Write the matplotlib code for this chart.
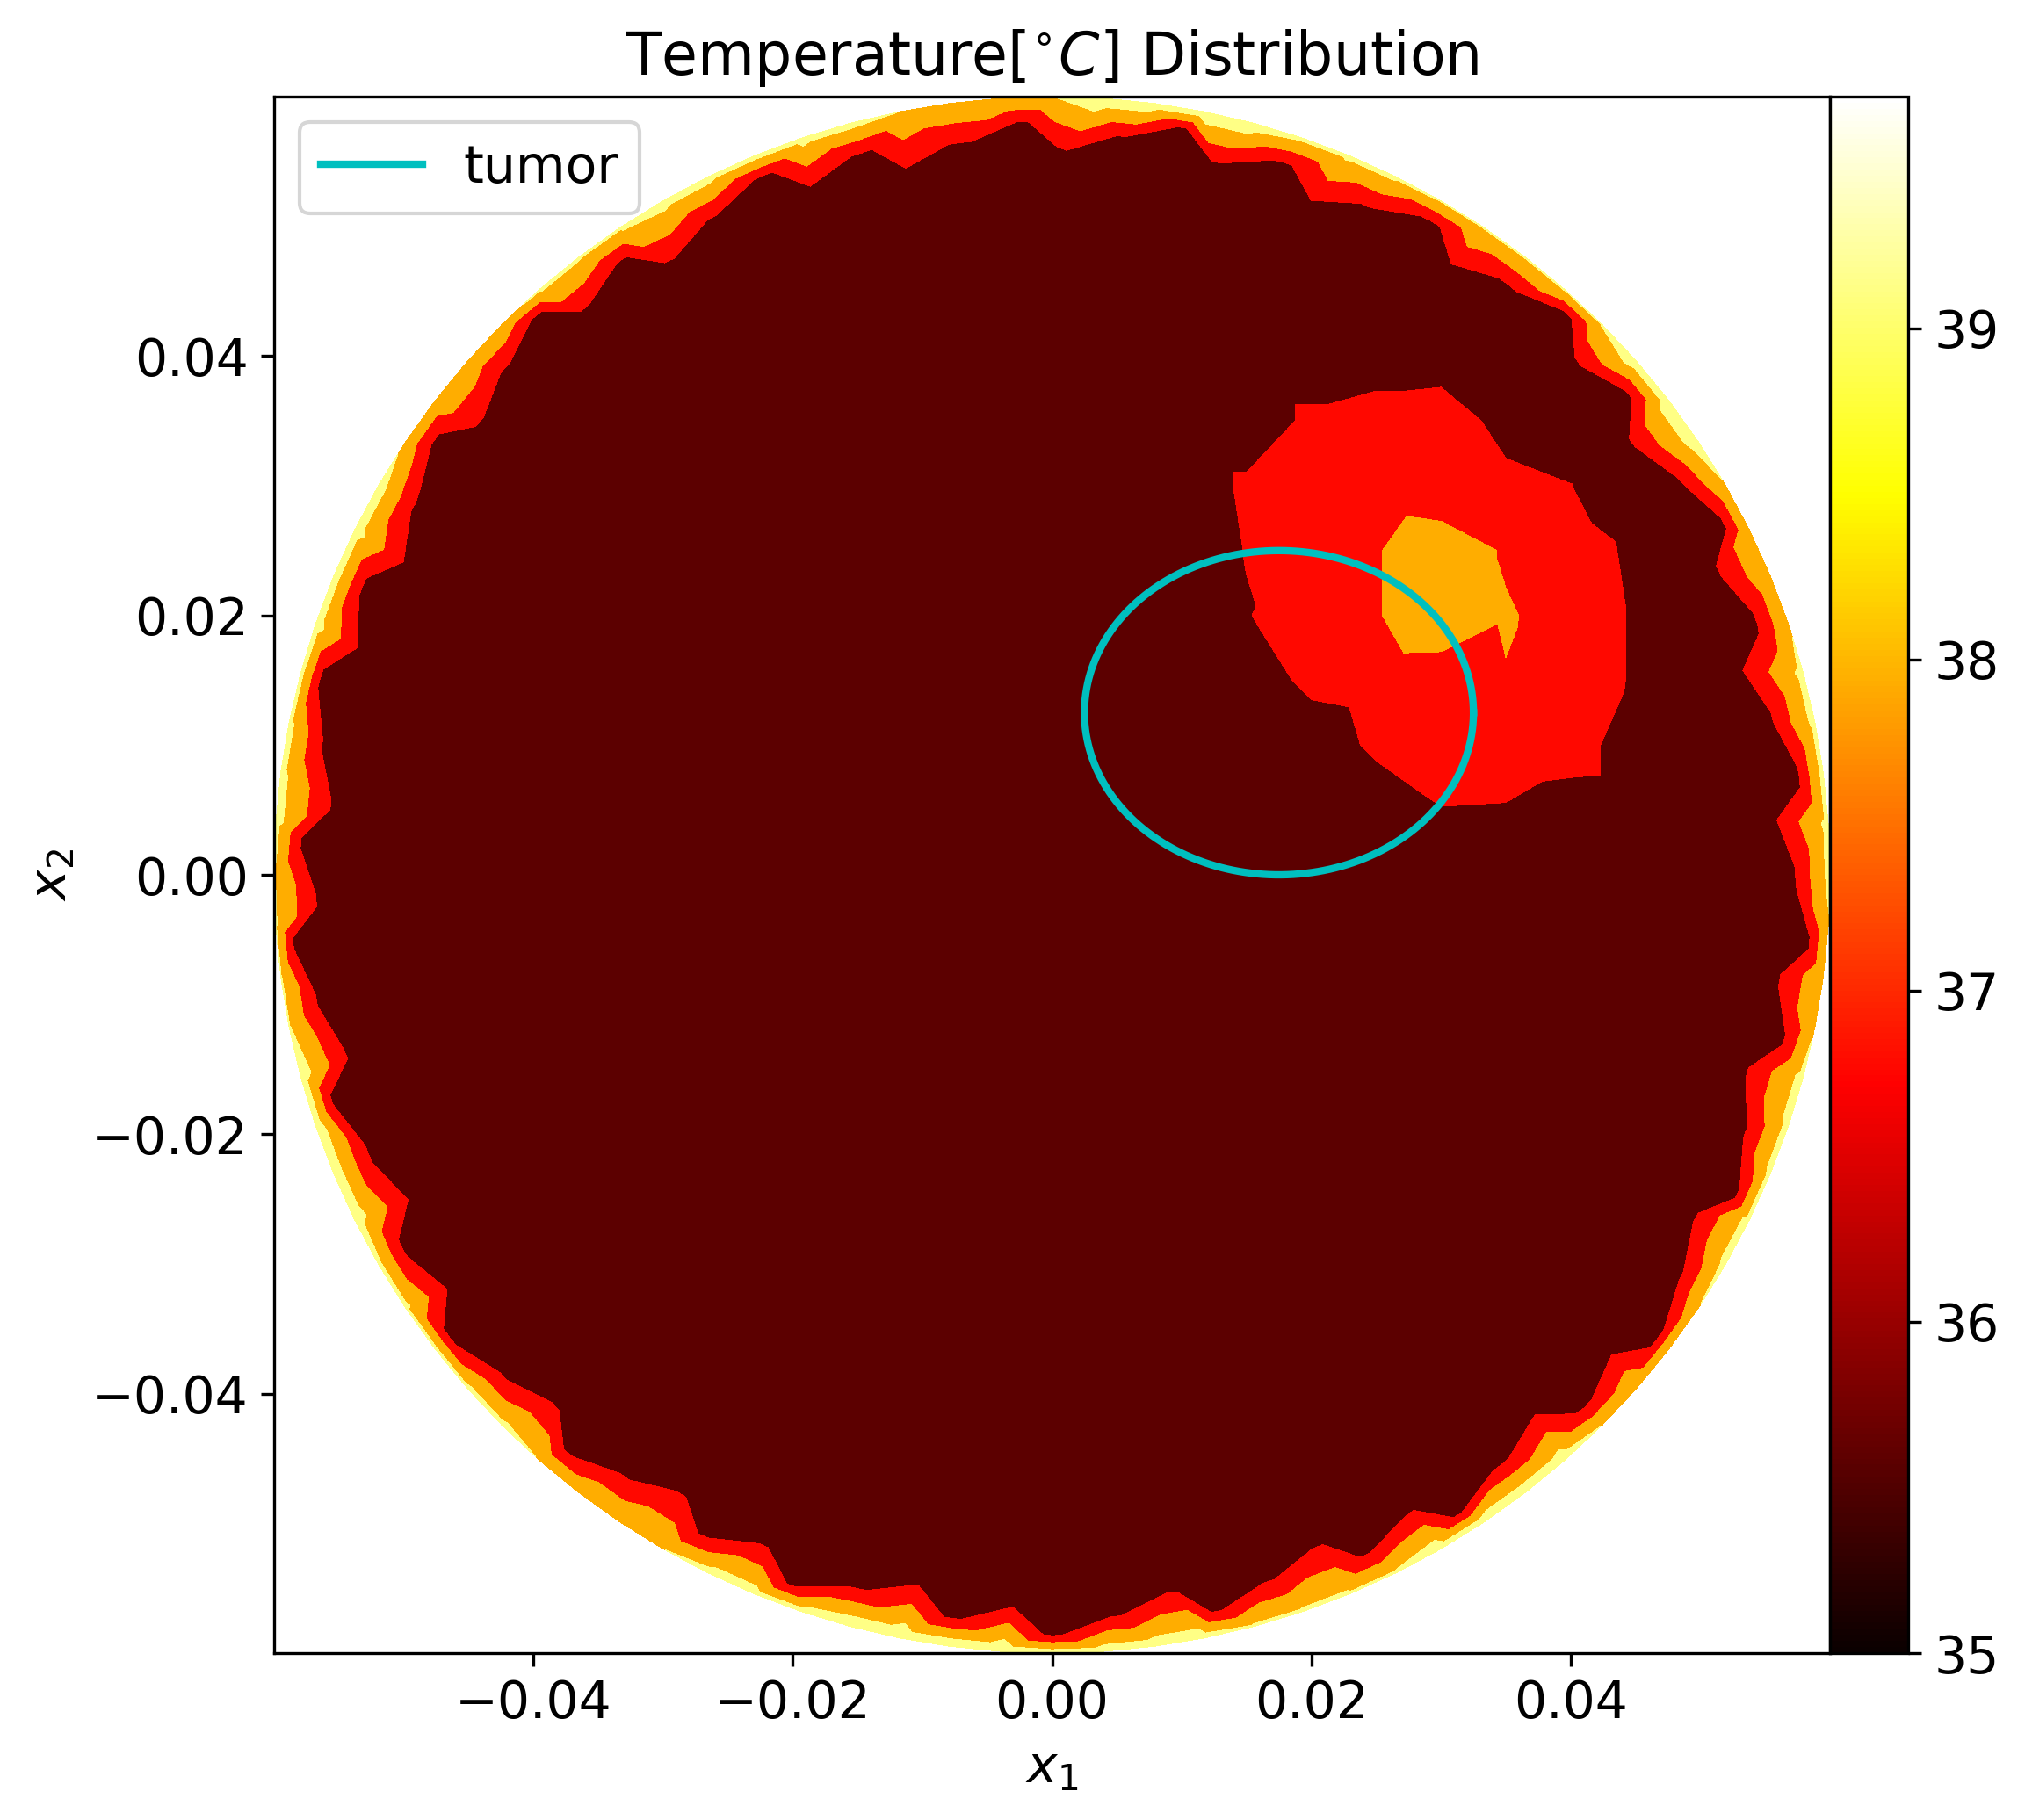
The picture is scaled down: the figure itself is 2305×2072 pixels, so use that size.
import numpy as np
import matplotlib
matplotlib.use("Agg")
import matplotlib.pyplot as plt
import matplotlib.tri as mtri
from matplotlib import cm, colors


# Temperature field on a disk of radius 6 cm.  The body sits at a uniform
# temperature, the skin (boundary) is warmer, and a heated zone lies near
# the tumour.

radius = 0.06
body_temp = 35.5
t_min, t_max = 35.0, 39.7

# skin temperature, one value per 15 degree sector, counter-clockwise from +x
rim_temp = [38.9, 38.4, 39.2, 38.6, 38.8, 39.3, 38.5, 39.0, 38.7, 38.3, 39.1, 38.9,
            38.6, 39.2, 38.8, 38.5, 39.0, 39.4, 39.1, 38.7, 39.2, 38.5, 38.9, 38.4]

# heated zone: node temperatures on a 5 mm grid (rows are y, columns are x)
spot_x = [0.010, 0.015, 0.020, 0.025, 0.030, 0.035, 0.040, 0.045, 0.050]
spot_y = [0.000, 0.005, 0.010, 0.015, 0.020, 0.025, 0.030, 0.035, 0.040]
spot_temp = [
    [35.5, 35.5, 35.5, 35.5, 35.5, 35.5, 35.5, 35.5, 35.5],
    [35.5, 35.5, 35.5, 35.5, 36.13, 36.08, 35.6, 35.5, 35.5],
    [35.5, 35.5, 35.5, 36.39, 36.8, 36.9, 36.75, 35.5, 35.5],
    [35.5, 35.5, 36.46, 36.65, 36.6, 37.29, 36.85, 36.05, 35.5],
    [35.5, 36.1, 37.0, 37.25, 38.3, 37.46, 36.9, 36.05, 35.5],
    [35.5, 36.22, 36.6, 37.25, 38.3, 37.2, 36.85, 35.5, 35.5],
    [35.5, 36.35, 36.6, 36.5, 36.2, 36.5, 36.2, 35.5, 35.5],
    [35.5, 35.5, 36.4, 36.75, 36.9, 35.73, 35.5, 35.5, 35.5],
    [35.5, 35.5, 35.5, 35.5, 35.5, 35.5, 35.5, 35.5, 35.5],
]

# tumour outline (ellipse)
tumor_center = (0.0175, 0.0125)
tumor_axes = (0.015, 0.0125)


# --- mesh: coarse grid inside, sunflower layer near the skin, boundary ring

gx, gy = np.meshgrid(np.arange(-60, 61, 5), np.arange(-60, 61, 5))  # mm
gx, gy = gx.ravel(), gy.ravel()
keep = np.hypot(gx, gy) <= 50.1
gx, gy = gx[keep], gy[keep]

lookup = {}
for j, y in enumerate(spot_y):
    for i, x in enumerate(spot_x):
        lookup[(round(x * 1000), round(y * 1000))] = spot_temp[j][i]
grid_t = np.array([lookup.get((x, y), body_temp) for x, y in zip(gx, gy)])

n_sun = 650
k = np.arange(n_sun)
sr = 0.0585 * np.sqrt((k + 0.5) / n_sun)
st = k * np.pi * (3 - np.sqrt(5))
sel = sr > 0.052
sx, sy = sr[sel] * np.cos(st[sel]), sr[sel] * np.sin(st[sel])
sun_t = np.full(sx.shape, body_temp)

n_edge = 96
phi = np.arange(n_edge) * 2 * np.pi / n_edge
ex, ey = radius * np.cos(phi), radius * np.sin(phi)
sector = (np.degrees(phi) // 15).astype(int)
edge_t = np.array(rim_temp)[sector]

x = np.concatenate([gx / 1000.0, sx, ex])
y = np.concatenate([gy / 1000.0, sy, ey])
temp = np.concatenate([grid_t, sun_t, edge_t])
tri = mtri.Triangulation(x, y)


# --- figure

fig = plt.figure(figsize=(2305 / 300, 2072 / 300), dpi=300)
ax = fig.add_axes([312 / 2305, 190 / 2072, 1771 / 2305, 1772 / 2072])
cax = fig.add_axes([2083 / 2305, 190 / 2072, 89 / 2305, 1772 / 2072])

levels = np.linspace(t_min, t_max, 5)
ax.tricontourf(tri, temp, levels=levels, cmap="hot")

theta = np.linspace(0, 2 * np.pi, 400)
ax.plot(tumor_center[0] + tumor_axes[0] * np.cos(theta),
        tumor_center[1] + tumor_axes[1] * np.sin(theta),
        color="c", lw=2, label="tumor")

ax.set_xlim(-radius, radius)
ax.set_ylim(-radius, radius)
ax.set_xticks([-0.04, -0.02, 0.0, 0.02, 0.04])
ax.set_yticks([-0.04, -0.02, 0.0, 0.02, 0.04])
ax.tick_params(labelsize=14)
ax.set_xlabel("$x_1$", fontsize=14)
ax.set_ylabel("$x_2$", fontsize=14)
ax.set_title(r"Temperature[$^{\circ}C$] Distribution", fontsize=16)
ax.legend(loc="upper left", fontsize=14)

sm = cm.ScalarMappable(norm=colors.Normalize(t_min, t_max), cmap="hot")
cb = fig.colorbar(sm, cax=cax)
cb.ax.tick_params(labelsize=14)

fig.savefig("out.png", dpi=300)
